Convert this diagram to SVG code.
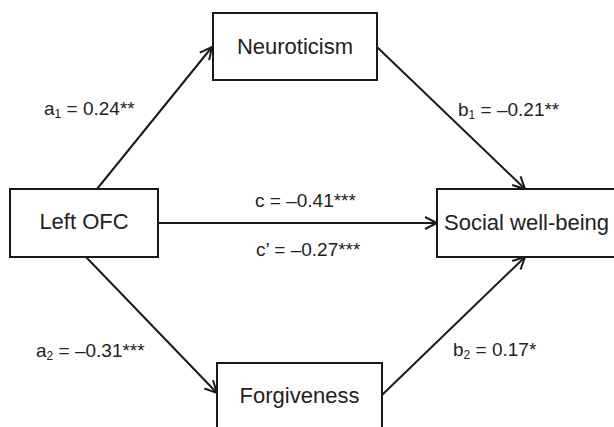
<svg xmlns="http://www.w3.org/2000/svg" width="614" height="427" viewBox="0 0 614 427">
<style>
.box{fill:#fff;stroke:#1a1a1a;stroke-width:2}
.node{font-family:"Liberation Sans",Arial,sans-serif;font-size:22px;fill:#222}
.lbl{font-family:"Liberation Sans",Arial,sans-serif;font-size:19px;fill:#222}
.sub{font-size:12px}
.edge{stroke:#1a1a1a;stroke-width:2;fill:none;marker-end:url(#arr)}
</style>
<defs>
<marker id="arr" markerUnits="userSpaceOnUse" markerWidth="16" markerHeight="16" refX="13" refY="7" orient="auto">
<path d="M1,1 L13,7 L1,13" fill="none" stroke="#1a1a1a" stroke-width="2" stroke-linejoin="miter"/>
</marker>
</defs>
<rect width="614" height="427" fill="#fff"/>
<g id="connectors">
<line class="edge" x1="97" y1="189" x2="212" y2="47"/>
<line class="edge" x1="377" y1="47" x2="525" y2="189"/>
<line class="edge" x1="158" y1="223" x2="437" y2="223"/>
<line class="edge" x1="86" y1="257" x2="217" y2="393"/>
<line class="edge" x1="382" y1="395" x2="525" y2="257"/>
</g>
<g id="neuroticism">
<rect class="box" x="213" y="13" width="164" height="67"/>
<text class="node" x="295" y="54" text-anchor="middle">Neuroticism</text>
</g>
<g id="left-ofc">
<rect class="box" x="10" y="189" width="148" height="68"/>
<text class="node" x="84" y="229" text-anchor="middle">Left OFC</text>
</g>
<g id="social-well-being">
<rect class="box" x="437" y="189" width="190" height="68"/>
<text class="node" x="444" y="230">Social well-being</text>
</g>
<g id="forgiveness">
<rect class="box" x="217" y="363" width="165" height="80"/>
<text class="node" x="299.5" y="403" text-anchor="middle">Forgiveness</text>
</g>
<g id="labels">
<text class="lbl" x="44" y="115">a<tspan class="sub" dy="3">1</tspan><tspan dy="-3"> = 0.24**</tspan></text>
<text class="lbl" x="458" y="116">b<tspan class="sub" dy="3">1</tspan><tspan dy="-3"> = –0.21**</tspan></text>
<text class="lbl" x="255" y="207">c = –0.41***</text>
<text class="lbl" x="256" y="256">c’ = –0.27***</text>
<text class="lbl" x="36" y="357">a<tspan class="sub" dy="3">2</tspan><tspan dy="-3"> = –0.31***</tspan></text>
<text class="lbl" x="453" y="356">b<tspan class="sub" dy="3">2</tspan><tspan dy="-3"> = 0.17*</tspan></text>
</g>
</svg>
